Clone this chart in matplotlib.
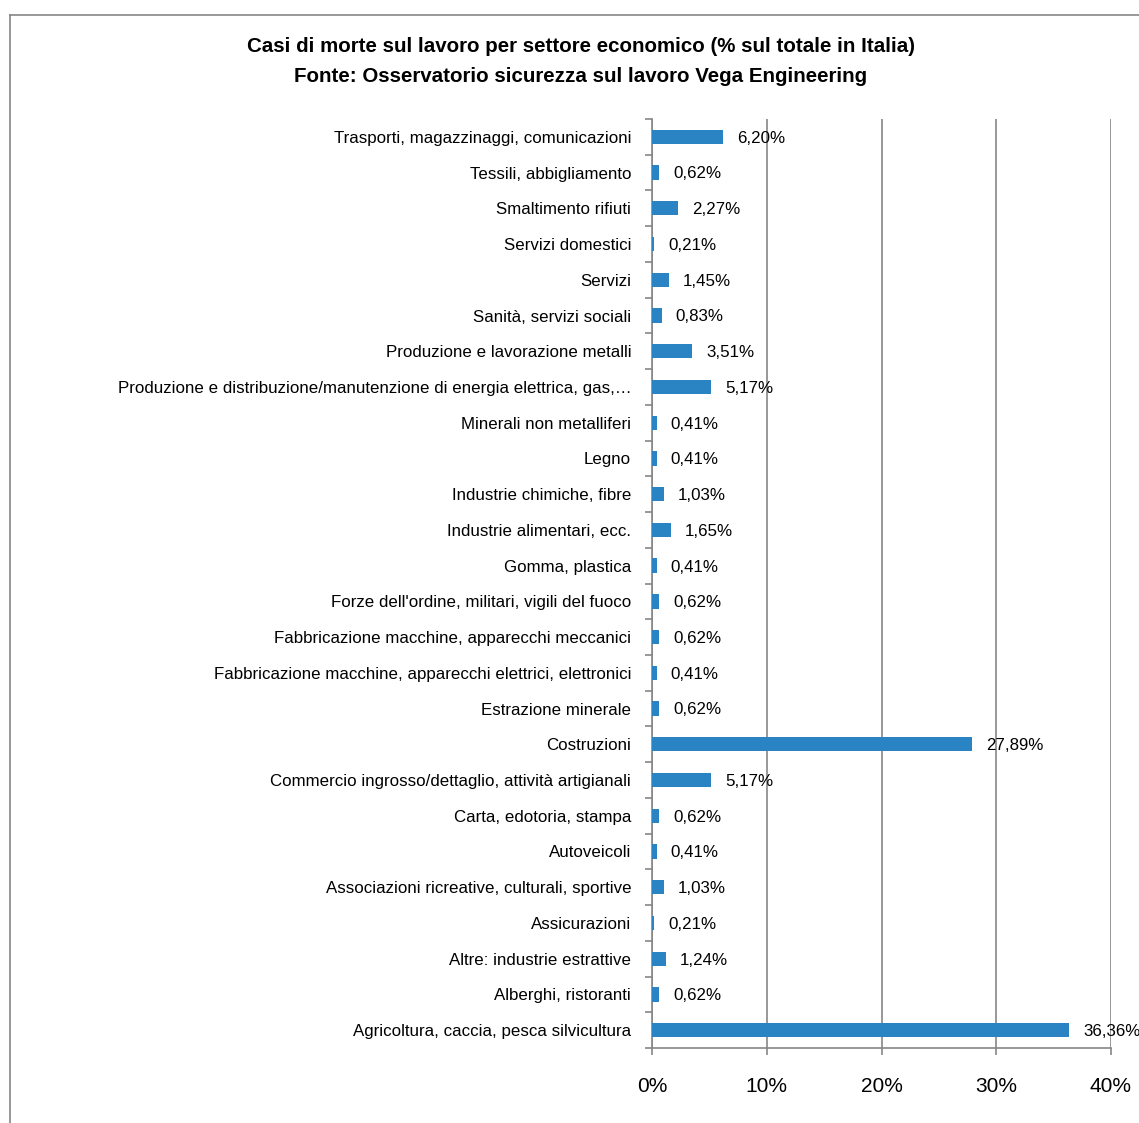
import matplotlib
matplotlib.use("Agg")
import matplotlib.pyplot as plt
import numpy as np
from matplotlib.lines import Line2D

# dal basso verso l'alto
settori = [
    "Agricoltura, caccia, pesca silvicultura",
    "Alberghi, ristoranti",
    "Altre: industrie estrattive",
    "Assicurazioni",
    "Associazioni ricreative, culturali, sportive",
    "Autoveicoli",
    "Carta, edotoria, stampa",
    "Commercio ingrosso/dettaglio, attività artigianali",
    "Costruzioni",
    "Estrazione minerale",
    "Fabbricazione macchine, apparecchi elettrici, elettronici",
    "Fabbricazione macchine, apparecchi meccanici",
    "Forze dell'ordine, militari, vigili del fuoco",
    "Gomma, plastica",
    "Industrie alimentari, ecc.",
    "Industrie chimiche, fibre",
    "Legno",
    "Minerali non metalliferi",
    "Produzione e distribuzione/manutenzione di energia elettrica, gas,…",
    "Produzione e lavorazione metalli",
    "Sanità, servizi sociali",
    "Servizi",
    "Servizi domestici",
    "Smaltimento rifiuti",
    "Tessili, abbigliamento",
    "Trasporti, magazzinaggi, comunicazioni",
]
percentuali = [36.36, 0.62, 1.24, 0.21, 1.03, 0.41, 0.62, 5.17, 27.89, 0.62,
               0.41, 0.62, 0.62, 0.41, 1.65, 1.03, 0.41, 0.41, 5.17, 3.51,
               0.83, 1.45, 0.21, 2.27, 0.62, 6.20]
xticks = [0, 10, 20, 30, 40]

plt.rcParams['font.family'] = ['Liberation Sans', 'DejaVu Sans']

fig = plt.figure(figsize=(11.39, 11.23), dpi=100)
ax = fig.add_axes([652/1139, 1-1048/1123, 459/1139, 929/1123])

y = np.arange(len(settori))
ax.barh(y, percentuali, height=0.4, color='#2a84c4', zorder=3)
for yi, v in zip(y, percentuali):
    ax.annotate(f"{v:.2f}%".replace('.', ','), (v, yi), xytext=(10, -1),
                textcoords='offset points', va='center', ha='left',
                fontsize=12.2, zorder=4, annotation_clip=False)

ax.set_xlim(0, 40)
ax.set_ylim(-0.5, len(settori) - 0.5)
ax.set_xticks(xticks)
ax.set_xticklabels([f"{t}%" for t in xticks], fontsize=15)
ax.set_yticks(y)
ax.set_yticklabels(settori, fontsize=12.2)
ax.set_yticks(np.arange(-0.5, len(settori), 1), minor=True)
ax.tick_params(axis='y', which='major', length=0, pad=15)
ax.tick_params(axis='y', which='minor', length=5, color='#868686', width=1.2)
ax.tick_params(axis='x', length=5, color='#868686', width=1.2, pad=16)
ax.grid(axis='x', color='#868686', linewidth=1.2, zorder=0)
for s in ['top', 'right']:
    ax.spines[s].set_visible(False)
for s in ['left', 'bottom']:
    ax.spines[s].set_color('#868686')
    ax.spines[s].set_linewidth(1.2)

fig.text(0.51, 1-47/1123, "Casi di morte sul lavoro per settore economico (% sul totale in Italia)",
         ha='center', va='center', fontsize=14.8, fontweight='bold')
fig.text(0.51, 1-77/1123, "Fonte: Osservatorio sicurezza sul lavoro Vega Engineering",
         ha='center', va='center', fontsize=14.8, fontweight='bold')

# bordo dell'area grafico
bx, by = 9.5/1139, 1-14.5/1123
fig.add_artist(Line2D([bx, bx], [by, -0.01], transform=fig.transFigure, color='#868686', lw=1.2))
fig.add_artist(Line2D([bx, 1.01], [by, by], transform=fig.transFigure, color='#868686', lw=1.2))

fig.savefig("out.png", dpi=100)
